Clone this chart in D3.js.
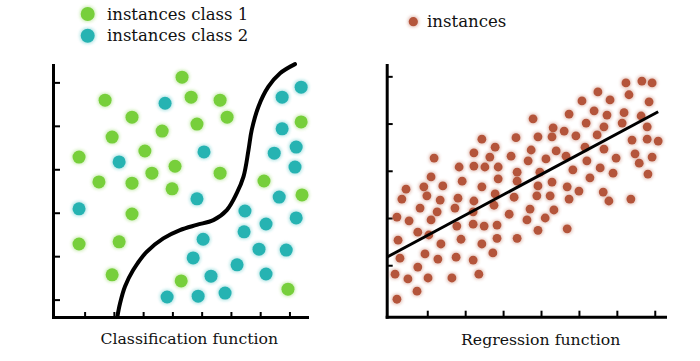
<!DOCTYPE html>
<html><head><meta charset="utf-8">
<script src="https://cdn.jsdelivr.net/npm/d3@7"></script>
<style>body{margin:0;background:#fff} svg{display:block}</style>
</head><body>
<svg id="c" width="700" height="361"></svg>
<script>
// ---------- data ----------
const legendLeft = ["instances class 1", "instances class 2"];
const legendRight = ["instances"];
const titles = ["Classification function", "Regression function"];

const class1X = [4.33,1.70,4.64,5.63,2.62,5.87,4.84,3.65,8.40,1.94,3.06,0.81,4.09,3.30,5.63,1.49,2.62,7.13,3.99,8.43,2.62,0.81,2.18,1.94,4.30,7.95];
const class1Y = [6.12,5.59,5.66,5.59,5.20,5.20,5.04,4.88,5.09,4.74,4.42,4.28,4.07,3.91,3.91,3.71,3.68,3.73,3.55,3.41,2.97,2.28,2.33,1.57,1.43,1.24];

const class2X = [3.75,7.75,8.40,7.75,5.08,7.48,8.23,2.18,8.19,4.84,7.65,0.81,6.48,8.23,7.20,6.45,5.05,6.96,7.89,4.71,6.21,5.32,7.20,3.82,4.88,5.80];
const class2Y = [5.52,5.66,5.89,4.93,4.40,4.37,4.51,4.17,4.05,3.32,3.36,3.09,3.04,2.88,2.74,2.56,2.39,2.16,2.14,1.96,1.80,1.54,1.59,1.06,1.08,1.15];

const boundaryX = [2.12,2.21,2.38,2.66,3.12,3.69,4.26,4.83,5.40,5.86,6.20,6.43,6.60,6.71,6.94,7.28,7.68,8.19];
const boundaryY = [0.61,0.91,1.30,1.68,2.10,2.41,2.60,2.72,2.83,3.06,3.45,3.83,4.44,4.90,5.44,5.90,6.21,6.42];

const instX = [1.18,2.44,3.34,2.79,2.23,2.65,3.21,1.84,2.23,2.52,2.87,3.37,1.10,1.92,2.87,3.37,0.44,0.91,1.41,2.44,
  0.33,0.99,1.34,1.81,2.23,2.79,3.29,0.81,1.26,1.73,2.21,2.76,3.16,0.20,0.52,1.10,1.78,2.21,2.50,2.84,
  0.75,1.04,0.23,1.89,1.36,2.44,2.84,3.37,2.73,0.28,0.94,1.28,1.76,2.21,0.75,0.15,0.49,1.02,1.65,2.36,
  0.73,0.20,6.24,6.66,6.93,5.50,6.32,5.08,5.82,6.85,4.74,5.40,5.74,6.19,6.64,3.79,5.19,5.66,6.14,6.80,
  4.32,4.61,3.92,4.29,4.92,5.48,6.40,6.80,7.09,3.74,4.40,5.16,5.66,6.48,3.66,4.13,4.66,5.98,6.93,5.21,
  6.59,3.97,4.84,5.56,5.90,6.82,5.29,3.92,4.29,4.69,5.00,5.64,3.89,4.24,4.74,5.79,6.37,3.71,4.34,3.63,
  4.11,3.92,4.69];
const instY = [3.27,3.67,3.70,3.50,3.38,3.29,3.31,3.08,3.10,3.08,3.08,2.97,2.87,2.78,2.83,2.78,2.61,2.66,2.68,2.66,
  2.40,2.47,2.38,2.42,2.36,2.51,2.44,2.21,2.13,2.21,2.13,2.27,2.08,2.02,1.94,1.96,1.83,1.87,1.83,1.85,
  1.70,1.64,1.53,1.55,1.45,1.45,1.57,1.57,1.26,1.15,1.24,1.13,1.17,1.11,0.96,0.81,0.71,0.73,0.73,0.81,
  0.45,0.28,4.86,4.90,4.86,4.67,4.61,4.48,4.50,4.46,4.20,4.27,4.18,4.23,4.16,4.10,4.01,3.93,4.01,3.93,
  3.91,3.84,3.72,3.72,3.74,3.76,3.65,3.67,3.63,3.44,3.42,3.50,3.46,3.36,3.21,3.25,3.31,3.27,3.29,3.21,
  3.16,2.97,3.02,3.06,2.95,2.93,2.85,2.68,2.76,2.66,2.57,2.55,2.47,2.47,2.40,2.36,2.40,2.19,2.17,1.96,
  2.00,1.74,1.77];

const regLineX = [-0.07, 7.09];
const regLineY = [1.17, 4.25];

const leftTicksX = [1,2,3,4,5,6,7,8];
const leftTicksY = [1,2,3,4,5,6];
const rightTicksX = [1,2,3,4,5,6,7];
const rightTicksY = [1,2,3,4,5];

// ---------- drawing ----------
const GREEN = "#77cf3b", TEAL = "#27b3b2", BROWN = "#b4543a";
const svg = d3.select("#c");
const font = "'DejaVu Serif', serif";

const defs = svg.append("defs");
const f = defs.append("filter").attr("id","glow").attr("x","-50%").attr("y","-50%").attr("width","200%").attr("height","200%");
f.append("feMorphology").attr("in","SourceGraphic").attr("operator","dilate").attr("radius",1.2).attr("result","d");
f.append("feGaussianBlur").attr("in","d").attr("stdDeviation",1.6).attr("result","b");
f.append("feComponentTransfer").attr("in","b").attr("result","t")
  .append("feFuncA").attr("type","linear").attr("slope",0.35);
const m = f.append("feMerge");
m.append("feMergeNode").attr("in","t");
m.append("feMergeNode").attr("in","SourceGraphic");

const xL = d3.scaleLinear().domain([-0.08, 8.6]).range([53, 307]);
const yL = d3.scaleLinear().domain([0.6, 6.4]).range([317, 65]);
const xR = d3.scaleLinear().domain([-0.07, 7.27]).range([386.7, 665]);
const yR = d3.scaleLinear().domain([-0.09, 5.24]).range([316.7, 65]);

function styleAxis(g){
  g.select(".domain").attr("stroke","#000").attr("stroke-width",3).attr("stroke-linecap","square");
  g.selectAll(".tick line").attr("stroke","#000").attr("stroke-width",2);
}

// left axes
svg.append("g").attr("transform",`translate(${xL.range()[0]},0)`)
  .call(d3.axisLeft(yL).tickValues(leftTicksY).tickSize(-7).tickSizeOuter(0).tickFormat(""))
  .call(styleAxis);
svg.append("g").attr("transform",`translate(0,${yL.range()[0]})`)
  .call(d3.axisBottom(xL).tickValues(leftTicksX).tickSize(-5).tickSizeOuter(0).tickFormat(""))
  .call(styleAxis);

// right axes
svg.append("g").attr("transform",`translate(${xR.range()[0]},0)`)
  .call(d3.axisLeft(yR).tickValues(rightTicksY).tickSize(-6).tickSizeOuter(0).tickFormat(""))
  .call(styleAxis);
svg.append("g").attr("transform",`translate(0,${yR.range()[0]})`)
  .call(d3.axisBottom(xR).tickValues(rightTicksX).tickSize(-6).tickSizeOuter(0).tickFormat(""))
  .call(styleAxis);

// left points
svg.append("g").selectAll("circle").data(d3.zip(class1X, class1Y)).join("circle")
  .attr("cx", d => xL(d[0])).attr("cy", d => yL(d[1])).attr("r", 6.5)
  .attr("fill", GREEN).attr("filter","url(#glow)");
svg.append("g").selectAll("circle").data(d3.zip(class2X, class2Y)).join("circle")
  .attr("cx", d => xL(d[0])).attr("cy", d => yL(d[1])).attr("r", 6.5)
  .attr("fill", TEAL).attr("filter","url(#glow)");

// decision boundary
svg.append("path").datum(d3.zip(boundaryX, boundaryY))
  .attr("d", d3.line().x(d => xL(d[0])).y(d => yL(d[1])).curve(d3.curveCatmullRom))
  .attr("fill","none").attr("stroke","#000").attr("stroke-width",4).attr("stroke-linecap","round");

// right points
svg.append("g").selectAll("circle").data(d3.zip(instX, instY)).join("circle")
  .attr("cx", d => xR(d[0])).attr("cy", d => yR(d[1])).attr("r", 4.4)
  .attr("fill", BROWN).attr("filter","url(#glow)");

// regression line
svg.append("path").datum(d3.zip(regLineX, regLineY))
  .attr("d", d3.line().x(d => xR(d[0])).y(d => yR(d[1])))
  .attr("fill","none").attr("stroke","#000").attr("stroke-width",3);

// legends
const legL = svg.append("g");
legendLeft.forEach((t,i) => {
  legL.append("circle").attr("cx",87.7).attr("cy",14 + i*21.7).attr("r",7)
    .attr("fill", i===0 ? GREEN : TEAL).attr("filter","url(#glow)");
  legL.append("text").attr("x",107).attr("y",19.5 + i*21.7).text(t)
    .attr("font-family",font).attr("font-size",16.5).attr("fill","#111");
});
legendRight.forEach((t,i) => {
  svg.append("circle").attr("cx",413.3).attr("cy",21.7).attr("r",4.6)
    .attr("fill", BROWN).attr("filter","url(#glow)");
  svg.append("text").attr("x",427).attr("y",26.5).text(t)
    .attr("font-family",font).attr("font-size",16.6).attr("fill","#111");
});

// titles
svg.append("text").attr("x",189.3).attr("y",344).attr("text-anchor","middle").text(titles[0])
  .attr("font-family",font).attr("font-size",15.7).attr("fill","#111");
svg.append("text").attr("x",540.7).attr("y",344.5).attr("text-anchor","middle").text(titles[1])
  .attr("font-family",font).attr("font-size",15.7).attr("fill","#111");
</script>
</body></html>
